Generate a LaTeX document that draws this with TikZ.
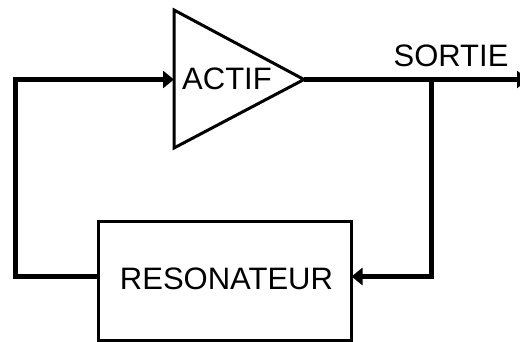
\documentclass[tikz,border=0pt]{standalone}
\usepackage{fontspec}
\setmainfont{Liberation Sans}
\usetikzlibrary{arrows.meta}
\begin{document}
\begin{tikzpicture}[x=1pt,y=-1pt,
  thickline/.style={line width=5pt, line join=miter},
  outline/.style={line width=3pt, line join=miter},
  tipend/.style={-{Triangle[length=11pt,width=17pt]}},
  lbl/.style={font=\fontsize{31}{31}\selectfont, inner sep=0pt}]
\useasboundingbox (0,0) rectangle (520,342);
% amplifier triangle
\coordinate (tl) at (174,10);
\coordinate (bl) at (174,148);
\coordinate (apex) at (304,79.5);
\coordinate (ampin) at (174,79.5);
\draw[outline] (tl) -- (apex) -- (bl) -- cycle;
\node[lbl] (actif) at (227,78.5) {ACTIF};
% resonator box
\node[outline, draw, rectangle, minimum width=253pt, minimum height=118pt, inner sep=0pt] (res) at (225,281) {};
\node[lbl] (restxt) at (226.5,278.5) {RESONATEUR};
\coordinate (resout) at (98.5,276.5);
\coordinate (resin) at (351.5,276.5);
% output
\coordinate (br) at (431,79.5);
\coordinate (outend) at (528,79.5);
\node[lbl] (sortie) at (451,56) {SORTIE};
\draw[thickline, tipend] (apex) -- (outend);
% feedback branch into resonator
\draw[thickline, tipend] (br) -- (br |- resin) -- (resin);
% resonator back to amplifier input
\draw[thickline, tipend] (resout) -- (15.5,276.5) -- (15.5,79.5) -- (ampin);
\end{tikzpicture}
\end{document}
